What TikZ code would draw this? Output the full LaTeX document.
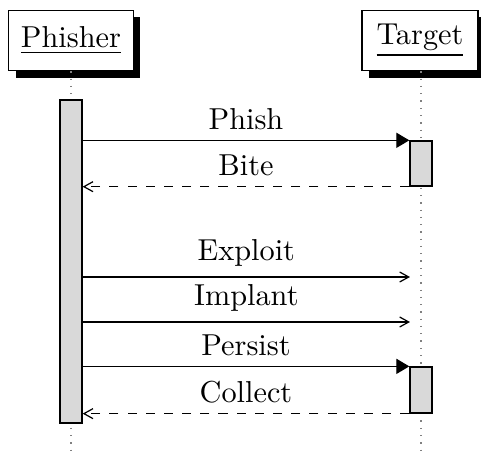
\documentclass[tikz,border=0pt]{standalone}
\usetikzlibrary{arrows.meta,positioning,shadows}

\begin{document}
\begin{tikzpicture}[
    x=0.33pt, y=-0.33pt,
    actor/.style={draw,fill=white,inner sep=4pt,minimum height=20pt,
      drop shadow={shadow xshift=2.2pt,shadow yshift=-2.3pt,fill=black,opacity=1}},
    lifeline/.style={dotted,gray},
    bar/.style={draw,fill=gray!30,minimum width=7.3pt,inner sep=0pt},
    call/.style={-{Triangle[length=4.3pt,width=5pt]}},
    mess/.style={-{Straight Barb[length=3pt,width=3.3pt]}},
    reply/.style={mess,dashed}
  ]
    \useasboundingbox (0,0) rectangle (481,455);
    \node[actor] (phisher) at (71,40.5) {\underline{Phisher}};
    \node[actor,minimum width=38.3pt] (target) at (420,40.5) {\underline{Target}};
    \coordinate (pend) at (71,455);
    \coordinate (tend) at (421,455);
    \draw[lifeline] (phisher.south -| pend) -- (pend);
    \draw[lifeline] (target.south -| tend) -- (tend);
    \node[bar,minimum height=106.6pt] (pbar) at (71,261.5) {};
    \node[bar,minimum height=14.9pt] (tphish) at (421,163.5) {};
    \node[bar,minimum height=15.2pt] (tpersist) at (421,390) {};
    \coordinate (exploit) at (410,277);
    \coordinate (implant) at (410,322);
    \draw[call] (pbar.east |- tphish.north) -- node[above] {Phish} (tphish.north west);
    \draw[reply] (tphish.south west) -- node[above] {Bite} (pbar.east |- tphish.south);
    \draw[mess] (pbar.east |- exploit) -- node[above] {Exploit} (exploit);
    \draw[mess] (pbar.east |- implant) -- node[above] {Implant} (implant);
    \draw[call] (pbar.east |- tpersist.north) -- node[above] {Persist} (tpersist.north west);
    \draw[reply] (tpersist.south west) -- node[above] {Collect} (pbar.east |- tpersist.south);
\end{tikzpicture}
\end{document}
